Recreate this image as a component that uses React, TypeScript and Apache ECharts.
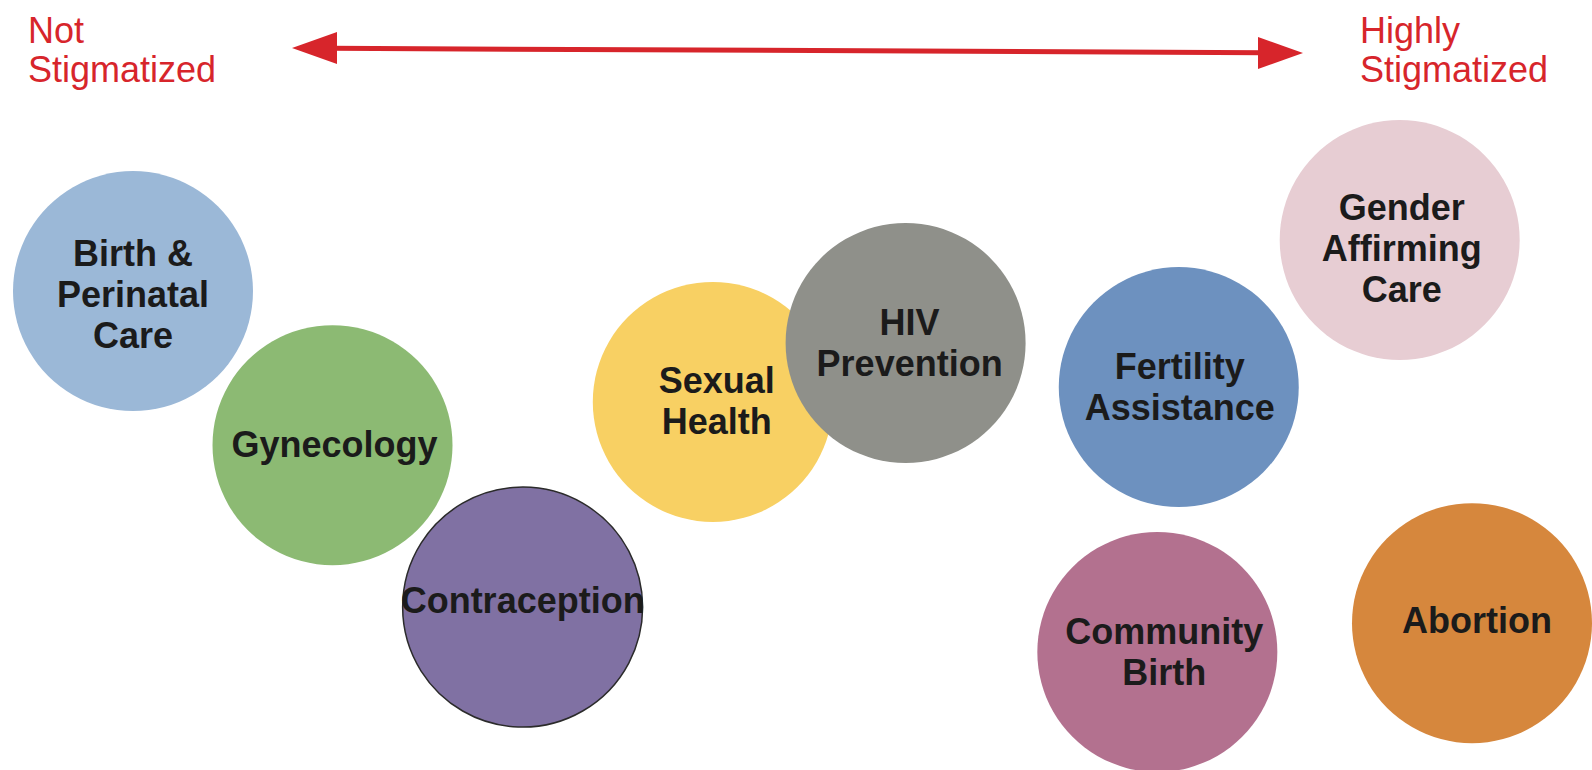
import React, { useEffect, useRef } from "react";
import * as echarts from "echarts";

// Care categories (label text, with line breaks as in the figure)
const categories = [
  "Birth &\nPerinatal\nCare",
  "Gynecology",
  "Contraception",
  "Sexual\nHealth",
  "HIV\nPrevention",
  "Fertility\nAssistance",
  "Gender\nAffirming\nCare",
  "Community\nBirth",
  "Abortion",
];

// Position along the stigma scale (0 = not stigmatized, 10 = highly stigmatized)
const stigmaLevel = [0, 1.49, 2.91, 4.33, 5.77, 7.81, 9.46, 7.65, 10];
// Vertical placement (0 = top row, 10 = bottom row)
const rowLevel = [1.24, 4.98, 8.91, 3.93, 2.5, 3.57, 0, 10, 9.3];

const colors = [
  "#9BB8D7",
  "#8CBA73",
  "#8071A3",
  "#F8D063",
  "#8F908A",
  "#6D91BF",
  "#E7CDD3",
  "#B3718F",
  "#D6873D",
];

const axisLabels = ["Not\nStigmatized", "Highly\nStigmatized"];

// small nudges of label text inside the circles (pixels)
const labelNudge: [number, number][] = [
  [0, 3],
  [2, -1],
  [0, -7],
  [4, -1],
  [4, 0],
  [1, 0],
  [2, 8],
  [7, 0],
  [5, -3],
];

const RED = "#D7252B";
const FONT = "'Liberation Sans', Arial, Helvetica, sans-serif";

export default function App() {
  const ref = useRef<HTMLDivElement>(null);

  useEffect(() => {
    if (!ref.current) return;
    const chart = echarts.init(ref.current, undefined, { renderer: "svg" });

    const data = categories.map((name, i) => ({
      name,
      value: [stigmaLevel[i], rowLevel[i]],
      itemStyle: {
        color: colors[i],
        opacity: 1,
        borderColor: i === 2 ? "#2b2b2b" : "transparent",
        borderWidth: i === 2 ? 1.5 : 0,
      },
      label: { offset: labelNudge[i] },
    }));

    chart.setOption({
      animation: false,
      backgroundColor: "#ffffff",
      grid: { left: 133, right: 120, top: 240, bottom: 118 },
      xAxis: { type: "value", min: 0, max: 10, show: false },
      yAxis: { type: "value", min: 0, max: 10, inverse: true, show: false },
      series: [
        {
          type: "scatter",
          symbol: "circle",
          symbolSize: 240,
          data,
          itemStyle: { opacity: 1 },
          emphasis: { disabled: true },
          label: {
            show: true,
            position: "inside",
            formatter: (p: any) => p.name,
            fontFamily: FONT,
            fontWeight: "bold",
            fontSize: 36,
            lineHeight: 41,
            color: "#1b1b1b",
            align: "center",
          },
        },
      ],
      graphic: [
        {
          type: "line",
          shape: { x1: 330, y1: 48.3, x2: 1265, y2: 52.7 },
          style: { stroke: RED, lineWidth: 5 },
        },
        {
          type: "polygon",
          shape: { points: [[292, 48], [337, 32], [337, 64]] },
          style: { fill: RED },
        },
        {
          type: "polygon",
          shape: { points: [[1303, 53], [1258, 37], [1258, 69]] },
          style: { fill: RED },
        },
        {
          type: "text",
          x: 28,
          y: 11,
          style: {
            text: axisLabels[0],
            fill: RED,
            font: `36px ${FONT}`,
            lineHeight: 39,
            textAlign: "left",
            textVerticalAlign: "top",
          },
        },
        {
          type: "text",
          x: 1360,
          y: 11,
          style: {
            text: axisLabels[1],
            fill: RED,
            font: `36px ${FONT}`,
            lineHeight: 39,
            textAlign: "left",
            textVerticalAlign: "top",
          },
        },
      ],
    });

    return () => chart.dispose();
  }, []);

  return (
    <div
      ref={ref}
      style={{ position: "fixed", left: 0, top: 0, width: 1592, height: 770 }}
    />
  );
}
